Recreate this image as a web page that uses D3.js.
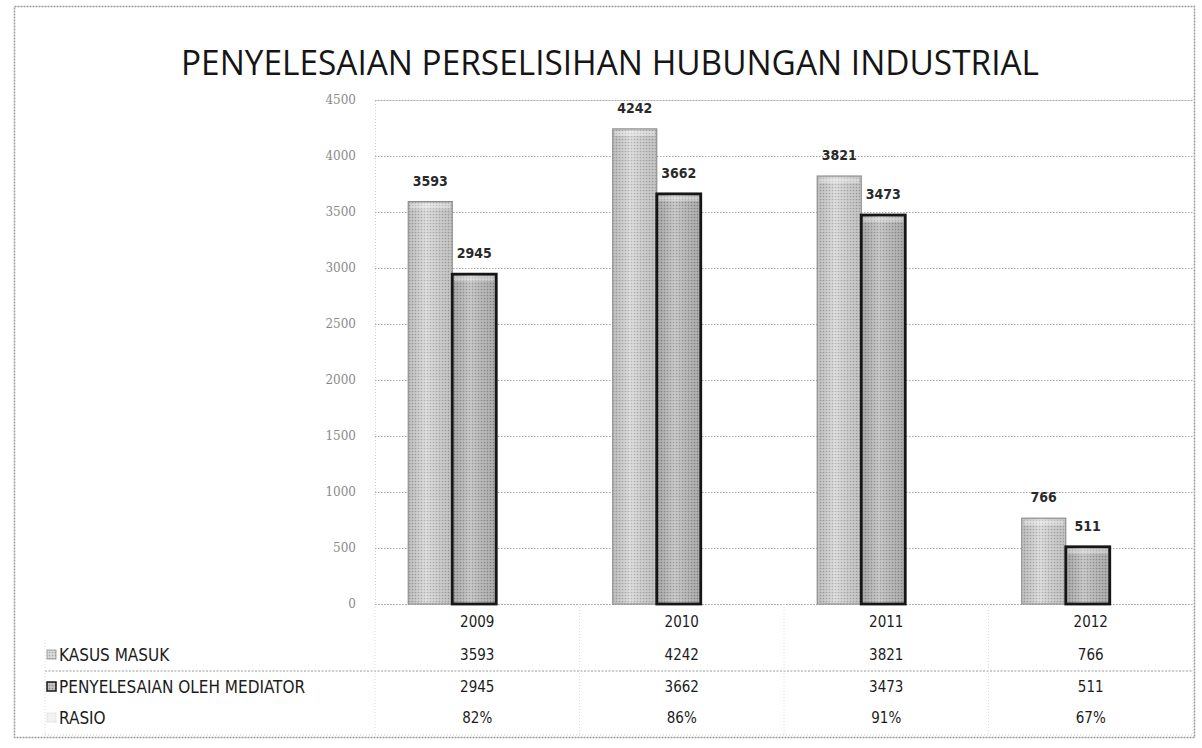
<!DOCTYPE html>
<html>
<head>
<meta charset="utf-8">
<script src="https://cdn.jsdelivr.net/npm/d3@7"></script>
<style>
  html,body{margin:0;padding:0;background:#fff;}
  svg{display:block;}
</style>
</head>
<body>
<svg id="chart" width="1202" height="748"></svg>
<script>
// ---- data ----
const chartTitle = "PENYELESAIAN PERSELISIHAN HUBUNGAN INDUSTRIAL";
const years = ["2009", "2010", "2011", "2012"];
const kasusMasuk = [3593, 4242, 3821, 766];
const penyelesaian = [2945, 3662, 3473, 511];
const rasio = ["82%", "86%", "91%", "67%"];
const seriesNames = ["KASUS MASUK", "PENYELESAIAN OLEH MEDIATOR", "RASIO"];
const yTicks = [0, 500, 1000, 1500, 2000, 2500, 3000, 3500, 4000, 4500];

// ---- layout ----
const plot = {left: 375, right: 1193, top: 100, bottom: 604};
const barShift = -25;
const rowY = [622, 655, 687, 718];
const tableLeft = 45, tableBottom = 736;

const svg = d3.select("#chart");
const defs = svg.append("defs");

// halftone-like patterns
function dotPattern(id, bg, dot, size) {
  const p = defs.append("pattern").attr("id", id).attr("patternUnits", "userSpaceOnUse")
    .attr("width", size).attr("height", size);
  p.append("rect").attr("width", size).attr("height", size).attr("fill", bg);
  p.append("circle").attr("cx", size / 2).attr("cy", size / 2).attr("r", size * 0.28).attr("fill", dot);
}
dotPattern("patA", "#dadada", "#a6a6a6", 3);
dotPattern("patB", "#c2c2c2", "#8a8a8a", 3);

const gradA = defs.append("linearGradient").attr("id", "shadeA").attr("x1", 0).attr("x2", 1);
gradA.append("stop").attr("offset", "0%").attr("stop-color", "#000").attr("stop-opacity", 0.12);
gradA.append("stop").attr("offset", "40%").attr("stop-color", "#fff").attr("stop-opacity", 0.15);
gradA.append("stop").attr("offset", "100%").attr("stop-color", "#000").attr("stop-opacity", 0.1);

const color = {frame: "#9a9a9a", grid: "#a8a8a8", text: "#1c1c1c", axisText: "#8a8a8a"};

// outer frame
svg.append("rect").attr("x", 14.5).attr("y", 6.5).attr("width", 1180).attr("height", 731)
  .attr("fill", "#fff").attr("stroke", color.frame).attr("stroke-width", 1.5)
  .attr("stroke-dasharray", "2,1");

// title
svg.append("text").attr("x", 610).attr("y", 75).attr("text-anchor", "middle")
  .attr("font-family", "'Open Sans', 'Liberation Sans', sans-serif")
  .attr("font-size", 34).attr("fill", "#151515").attr("font-weight", 500)
  .attr("textLength", 858).attr("lengthAdjust", "spacingAndGlyphs")
  .text(chartTitle);

// scales
const x = d3.scaleBand().domain(years).range([plot.left, plot.right]);
const y = d3.scaleLinear().domain([0, 4500]).range([plot.bottom, plot.top]);
const sub = d3.scaleBand().domain([0, 1]).range([-44, 44]);

// gridlines via axis
const gridAxis = d3.axisLeft(y).tickValues(yTicks).tickSize(-(plot.right - plot.left)).tickFormat("");
const gG = svg.append("g").attr("transform", `translate(${plot.left},0)`).call(gridAxis);
gG.select(".domain").attr("stroke", "#d0d0d0").attr("stroke-dasharray", "1,2");
gG.selectAll(".tick line").attr("stroke", color.grid).attr("stroke-width", 1).attr("stroke-dasharray", "1.5,1.5");

// y labels
const yAxis = d3.axisLeft(y).tickValues(yTicks).tickSize(0).tickPadding(0).tickFormat(d3.format("d"));
const yG = svg.append("g").attr("transform", `translate(356,0)`).call(yAxis);
yG.select(".domain").remove();
yG.selectAll("text").attr("font-family", "'DejaVu Serif', serif").attr("font-size", 12)
  .attr("fill", color.axisText);

// bars
const series = [
  {name: seriesNames[0], values: kasusMasuk, fill: "url(#patA)", stroke: "#8c8c8c", sw: 1.2},
  {name: seriesNames[1], values: penyelesaian, fill: "url(#patB)", stroke: "#161616", sw: 2.8}
];
series.forEach((s, si) => {
  const g = svg.append("g");
  years.forEach((yr, i) => {
    const cx = x(yr) + x.bandwidth() / 2 + barShift;
    const bx = cx + sub(si);
    const bw = sub.bandwidth();
    const top = y(s.values[i]);
    g.append("rect").attr("x", bx).attr("y", top).attr("width", bw).attr("height", y(0) - top)
      .attr("fill", s.fill).attr("stroke", s.stroke).attr("stroke-width", s.sw);
    g.append("rect").attr("x", bx + 1).attr("y", top + 1).attr("width", bw - 2).attr("height", y(0) - top - 2)
      .attr("fill", "url(#shadeA)");
    g.append("rect").attr("x", bx + 2).attr("y", top + 2).attr("width", bw - 4).attr("height", 5)
      .attr("fill", "#fff").attr("opacity", 0.35);
    svg.append("text").attr("x", bx + bw / 2).attr("y", top - 16)
      .attr("text-anchor", "middle").attr("font-family", "'DejaVu Sans Condensed', 'DejaVu Sans', sans-serif")
      .attr("font-size", 14).attr("font-weight", "bold").attr("fill", "#2a2a2a").text(s.values[i]);
  });
});

// data table
const tG = svg.append("g");
tG.append("line").attr("x1", tableLeft).attr("x2", plot.right).attr("y1", 671).attr("y2", 671)
  .attr("stroke", "#9a9a9a").attr("stroke-dasharray", "2,1.5");
const vx = years.map(yr => x(yr)).concat([plot.right]);
vx.forEach(v => {
  tG.append("line").attr("x1", v).attr("x2", v).attr("y1", plot.bottom).attr("y2", tableBottom)
    .attr("stroke", "#dcdcdc").attr("stroke-dasharray", "1,2");
});
tG.append("line").attr("x1", tableLeft).attr("x2", tableLeft).attr("y1", 640).attr("y2", tableBottom)
  .attr("stroke", "#dcdcdc").attr("stroke-dasharray", "1,2");
tG.append("line").attr("x1", tableLeft).attr("x2", plot.right).attr("y1", tableBottom - 1).attr("y2", tableBottom - 1)
  .attr("stroke", "#c8c8c8").attr("stroke-dasharray", "1,2");

const tableFont = "'DejaVu Sans Condensed', 'DejaVu Sans', sans-serif";
years.forEach(yr => {
  tG.append("text").attr("x", x(yr) + x.bandwidth() / 2).attr("y", rowY[0]).attr("dy", "0.35em")
    .attr("text-anchor", "middle").attr("font-family", tableFont).attr("font-size", 15)
    .attr("fill", color.text).text(yr);
});
const rows = [kasusMasuk, penyelesaian, rasio];
const keyFill = ["url(#patA)", "url(#patB)", "#f2f2f2"];
const keyStroke = ["#8c8c8c", "#161616", "#e0e0e0"];
rows.forEach((vals, ri) => {
  const ry = rowY[ri + 1];
  tG.append("rect").attr("x", tableLeft + 2).attr("y", ry - 5).attr("width", 9).attr("height", 9)
    .attr("fill", keyFill[ri]).attr("stroke", keyStroke[ri]).attr("stroke-width", ri === 1 ? 1.5 : 0.8);
  tG.append("text").attr("x", tableLeft + 14).attr("y", ry).attr("dy", "0.35em")
    .attr("font-family", tableFont).attr("font-size", 17).attr("fill", color.text)
    .text(seriesNames[ri]);
  vals.forEach((v, i) => {
    tG.append("text").attr("x", x(years[i]) + x.bandwidth() / 2).attr("y", ry).attr("dy", "0.35em")
      .attr("text-anchor", "middle").attr("font-family", tableFont).attr("font-size", 15)
      .attr("fill", color.text).text(v);
  });
});
</script>
</body>
</html>
